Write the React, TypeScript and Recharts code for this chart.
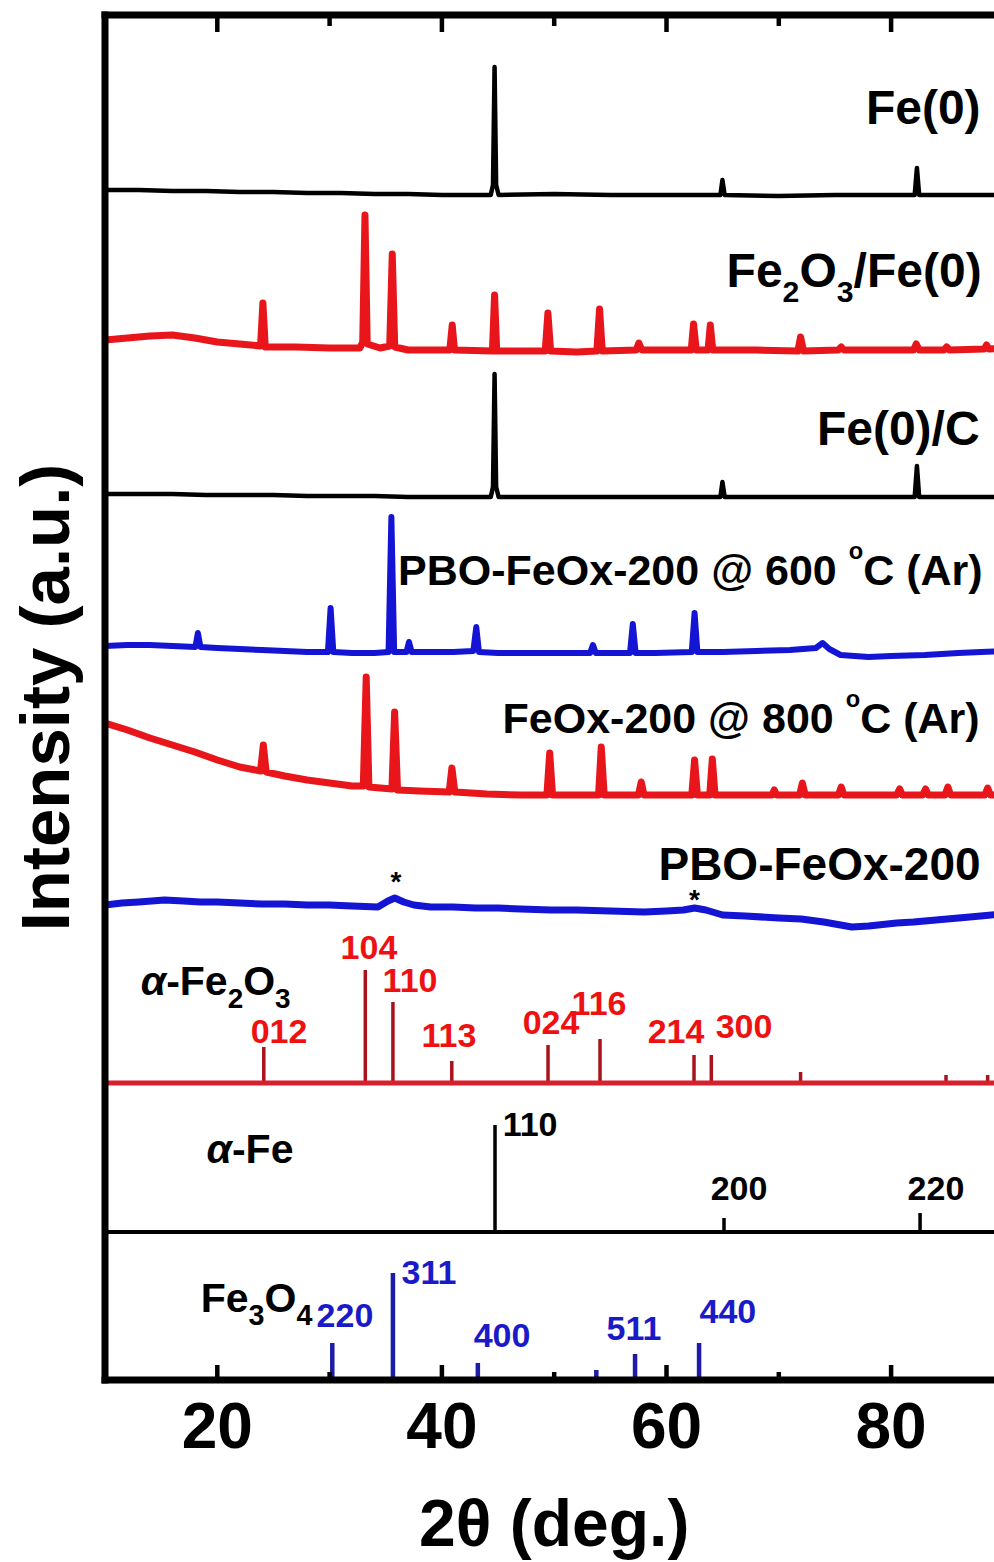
import React from 'react';
import { ComposedChart, Line, XAxis, YAxis, ReferenceDot } from 'recharts';

const FONT = '"Liberation Sans", Arial, Helvetica, sans-serif';

// ---------- axes ----------
const X_DOMAIN: [number, number] = [10, 90];
const X_TICKS = [20, 30, 40, 50, 60, 70, 80];
const X_TICK_LABELS = [20, 40, 60, 80];
const Y_DOMAIN: [number, number] = [0, 1365];

// ---------- measured patterns: [2θ, intensity above own offset] ----------
const FE0: [number, number][] = [
  [10, 5], [13, 5], [16, 4], [19, 4], [22, 3], [25, 3], [28, 2], [31, 2], [34, 1], [37, 1], [40, 0],
  [44.35, 0], [44.55, 10], [44.69, 128], [44.83, 10], [45.05, 0], [50, 1], [55, 0], [60, 0],
  [64.8, 0], [64.98, 15], [65.18, 0], [70, -1], [75, 0], [80, 0], [82.1, 0], [82.3, 27], [82.5, 0], [86, 0], [90, 0],
];
const FE2O3_FE0: [number, number][] = [
  [10, 10], [12, 12], [14, 14], [16, 15], [18, 12], [20, 8], [22, 6], [23.85, 4], [24.06, 47], [24.27, 3],
  [27, 3], [30, 2], [32.7, 2], [32.95, 8], [33.15, 135], [33.35, 6], [34.5, 2], [35.35, 4], [35.58, 96], [35.8, 3],
  [37, 0], [40.7, 0], [40.92, 25], [41.12, 0], [44.5, -1], [44.69, 55], [44.88, -1], [47, -1], [49.2, -1], [49.44, 37],
  [49.68, -1], [52, -2], [53.8, -1], [54.04, 41], [54.28, -1], [57.3, 0], [57.54, 7], [57.8, 0], [60, 0], [62.2, 0],
  [62.41, 26], [62.65, 0], [63.7, 0], [63.9, 25], [64.12, 0], [68, 0], [71.7, -1], [71.94, 13], [72.2, -1], [75.3, 0],
  [75.56, 3], [75.8, 0], [80, 0], [82.0, 0], [82.24, 6], [82.5, 0], [84.7, 0], [84.95, 3], [85.2, 0], [88.3, 1],
  [88.5, 5], [88.7, 1], [90, 2],
];
const FE0_C: [number, number][] = [
  [10, 3], [13, 3], [16, 3], [19, 2], [22, 2], [25, 2], [28, 1], [31, 1], [34, 1], [37, 0], [40, 0],
  [44.35, 0], [44.55, 10], [44.69, 123], [44.83, 10], [45.05, 0], [50, 0], [55, 0], [60, 0],
  [64.8, 0], [64.98, 15], [65.18, 0], [70, 0], [75, 0], [80, 0], [82.1, 0], [82.3, 31], [82.5, 0], [86, 0], [90, 0],
];
const PBO_600: [number, number][] = [
  [10, 6], [12, 7], [14, 7], [16, 6], [18.05, 5], [18.27, 19], [18.5, 5], [20, 4], [22, 3], [24, 2], [26, 1],
  [28, 0], [29.85, 0], [30.09, 44], [30.33, 0], [32, -1], [34, -1], [35.25, 0], [35.5, 135], [35.75, 0],
  [36.85, 0], [37.07, 10], [37.3, 0], [39, 0], [41, 0], [42.8, 1], [43.06, 25], [43.3, 0], [45, -1], [48, -1],
  [50, -1], [53.2, -1], [53.45, 7], [53.7, -1], [55, -1], [56.75, -1], [57.0, 28], [57.25, -1], [59, -1],
  [62.25, 0], [62.5, 39], [62.75, 0], [65, 0], [68, 1], [71, 2], [73.3, 4], [73.9, 9], [74.5, 3], [75.5, -3],
  [78, -5], [80, -4], [83, -3], [86, -1], [88, 0], [90, 1],
];
const FEOX_800: [number, number][] = [
  [10, 72], [12, 65], [14, 57], [16, 50], [18, 43], [20, 35], [22, 28], [23.85, 24], [24.1, 50], [24.35, 23],
  [26, 19], [28, 15], [30, 12], [32, 9], [33.0, 9], [33.26, 118], [33.5, 8], [35.55, 6], [35.79, 83], [36.05, 5],
  [38, 4], [40.65, 3], [40.89, 27], [41.15, 3], [44, 1], [47, 0], [49.35, 0], [49.6, 42], [49.85, 0], [52, 0],
  [53.95, 0], [54.19, 48], [54.45, 0], [57.5, 0], [57.75, 13], [58, 0], [60, 0], [62.25, 0], [62.5, 35], [62.75, 0],
  [63.85, 0], [64.08, 36], [64.32, 0], [67, 0], [69.4, 0], [69.6, 5], [69.8, 0], [71.85, 0], [72.1, 12], [72.35, 0],
  [75.3, 0], [75.56, 8], [75.8, 0], [78, 0], [80.5, 0], [80.76, 6], [81, 0], [82.8, 0], [83.07, 6], [83.3, 0],
  [84.8, 0], [85.06, 8], [85.3, 0], [88.35, 0], [88.6, 7], [88.85, 0], [90, 0],
];
const PBO_200: [number, number][] = [
  [10, 5], [11.5, 7], [13, 8], [15.3, 10], [17, 9], [18.5, 8], [20, 8], [22, 7], [24, 6], [26, 6], [28, 5],
  [30, 5], [32, 4], [34.3, 3], [35.2, 9], [35.8, 12], [36.6, 8], [37.5, 5], [39, 3], [41, 3], [43, 2], [45, 2],
  [47, 1], [49.7, 0], [52, 0], [55, -1], [58, -2], [60, -1], [61.5, 0], [62.5, 2], [63.5, 0], [65, -5], [67, -6],
  [70, -8], [72, -9], [74, -12], [75.5, -15], [76.5, -17], [78, -16], [80.5, -13], [82, -12], [84, -10], [87, -7], [90, -4],
];

// vertical offsets of the stacked patterns
const OFF_FE0 = 1185;
const OFF_FE2O3_FE0 = 1030;
const OFF_FE0_C = 883;
const OFF_PBO_600 = 728;
const OFF_FEOX_800 = 585;
const OFF_PBO_200 = 470;
const OFF_REF_FE2O3 = 297;
const OFF_REF_FE = 148;
const OFF_REF_FE3O4 = 0;

// ---------- reference sticks ----------
const FE2O3_REF_POS = [24.14, 33.18, 35.64, 40.88, 49.45, 54.08, 62.45, 63.99, 71.94, 84.89, 88.6];
const FE2O3_REF_INT = [36, 113, 81, 22, 38, 44, 28, 28, 11, 8, 8];
const FE_REF_POS = [44.73, 65.12, 82.58];
const FE_REF_INT = [107, 14, 19];
const FE3O4_REF_POS = [30.24, 35.64, 43.2, 53.75, 57.2, 62.9];
const FE3O4_REF_INT = [37, 107, 17, 10, 26, 37];

// ---------- annotation texts ----------
type Seg = { t: string; k?: 'sub' | 'sup' | 'it' };
type Ann = { x: number; y: number; segs: Seg[]; size: number; color: string; anchor: 'start' | 'middle' | 'end'; sub?: number };

const SAMPLE_LABELS: Ann[] = [
  { x: 87.97, y: 1256, segs: [{ t: 'Fe(0)' }], size: 48, color: '#000', anchor: 'end' },
  { x: 88.06, y: 1093, segs: [{ t: 'Fe' }, { t: '2', k: 'sub' }, { t: 'O' }, { t: '3', k: 'sub' }, { t: '/Fe(0)' }], size: 48, color: '#000', anchor: 'end' },
  { x: 87.88, y: 935, segs: [{ t: 'Fe(0)/C' }], size: 48, color: '#000', anchor: 'end' },
  { x: 88.15, y: 795, segs: [{ t: 'PBO-FeOx-200 @ 600 ' }, { t: 'o', k: 'sup' }, { t: 'C (Ar)' }], size: 43, color: '#000', anchor: 'end' },
  { x: 87.88, y: 647, segs: [{ t: 'FeOx-200 @ 800 ' }, { t: 'o', k: 'sup' }, { t: 'C (Ar)' }], size: 43, color: '#000', anchor: 'end' },
  { x: 87.97, y: 500, segs: [{ t: 'PBO-FeOx-200' }], size: 46, color: '#000', anchor: 'end' },
];
const STARS: Ann[] = [
  { x: 35.9, y: 489, segs: [{ t: '*' }], size: 28, color: '#000', anchor: 'middle' },
  { x: 62.5, y: 471, segs: [{ t: '*' }], size: 28, color: '#000', anchor: 'middle' },
];
const PHASE_LABELS: Ann[] = [
  { x: 13.18, y: 385, segs: [{ t: 'α', k: 'it' }, { t: '-Fe' }, { t: '2', k: 'sub' }, { t: 'O' }, { t: '3', k: 'sub' }], size: 41, color: '#000', anchor: 'start', sub: 0.68 },
  { x: 19.04, y: 217, segs: [{ t: 'α', k: 'it' }, { t: '-Fe' }], size: 41, color: '#000', anchor: 'start' },
  { x: 18.52, y: 68, segs: [{ t: 'Fe' }, { t: '3', k: 'sub' }, { t: 'O' }, { t: '4', k: 'sub' }], size: 41, color: '#000', anchor: 'start', sub: 0.7 },
];
const HKL_FE2O3: Ann[] = [
  { x: 22.97, y: 337, segs: [{ t: '012' }], size: 34, color: '#ee1111', anchor: 'start' },
  { x: 30.98, y: 421, segs: [{ t: '104' }], size: 34, color: '#ee1111', anchor: 'start' },
  { x: 34.72, y: 388, segs: [{ t: '110' }], size: 34, color: '#ee1111', anchor: 'start' },
  { x: 38.19, y: 333, segs: [{ t: '113' }], size: 34, color: '#ee1111', anchor: 'start' },
  { x: 47.19, y: 346, segs: [{ t: '024' }], size: 34, color: '#ee1111', anchor: 'start' },
  { x: 51.55, y: 365, segs: [{ t: '116' }], size: 34, color: '#ee1111', anchor: 'start' },
  { x: 58.32, y: 337, segs: [{ t: '214' }], size: 34, color: '#ee1111', anchor: 'start' },
  { x: 64.38, y: 342, segs: [{ t: '300' }], size: 34, color: '#ee1111', anchor: 'start' },
];
const HKL_FE: Ann[] = [
  { x: 45.41, y: 244, segs: [{ t: '110' }], size: 34, color: '#000', anchor: 'start' },
  { x: 63.93, y: 180, segs: [{ t: '200' }], size: 34, color: '#000', anchor: 'start' },
  { x: 81.47, y: 180, segs: [{ t: '220' }], size: 34, color: '#000', anchor: 'start' },
];
const HKL_FE3O4: Ann[] = [
  { x: 28.84, y: 53, segs: [{ t: '220' }], size: 34, color: '#1a1ac8', anchor: 'start' },
  { x: 36.41, y: 96, segs: [{ t: '311' }], size: 34, color: '#1a1ac8', anchor: 'start' },
  { x: 42.83, y: 33, segs: [{ t: '400' }], size: 34, color: '#1a1ac8', anchor: 'start' },
  { x: 54.66, y: 40, segs: [{ t: '511' }], size: 34, color: '#1a1ac8', anchor: 'start' },
  { x: 62.94, y: 57, segs: [{ t: '440' }], size: 34, color: '#1a1ac8', anchor: 'start' },
];
const ALL_ANN = [...SAMPLE_LABELS, ...STARS, ...PHASE_LABELS, ...HKL_FE2O3, ...HKL_FE, ...HKL_FE3O4];

// ---------- builders ----------
const toRows = (pts: [number, number][], off: number) => pts.map(([x, y]) => ({ x, y: y + off }));
const stickRows = (pos: number[], ints: number[], off: number) => {
  const rows: { x: number; y: number | null }[] = [];
  pos.forEach((p, i) => {
    rows.push({ x: p, y: off }, { x: p, y: off + ints[i] }, { x: p, y: null });
  });
  return rows;
};
const flatRows = (off: number) => [{ x: X_DOMAIN[0], y: off }, { x: X_DOMAIN[1], y: off }];

const renderSegs = (segs: Seg[], size: number, subScale = 0.63) => {
  let shift = 0;
  return segs.map((s, i) => {
    let target = 0;
    let fs = size;
    if (s.k === 'sub') { target = size * 0.31; fs = size * subScale; }
    if (s.k === 'sup') { target = -size * 0.6; fs = size * 0.55; }
    const dy = target - shift;
    shift = target;
    return (
      <tspan key={i} dy={dy} fontSize={fs} fontStyle={s.k === 'it' ? 'italic' : undefined}>{s.t}</tspan>
    );
  });
};

const BottomTick = (props: any) => {
  const { x, y, payload } = props;
  const v = payload?.value;
  const major = X_TICK_LABELS.includes(v);
  return (
    <g>
      <line x1={x} x2={x} y1={y} y2={y - (major ? 15 : 8)} stroke="#000" strokeWidth={4.5} />
      {major && (
        <text x={x} y={y + 68} textAnchor="middle" fontSize={64} fontWeight={700} fontFamily={FONT} fill="#000">{v}</text>
      )}
    </g>
  );
};
const TopTick = (props: any) => {
  const { x, y, payload } = props;
  const major = X_TICK_LABELS.includes(payload?.value);
  return <line x1={x} x2={x} y1={y} y2={y + (major ? 17 : 11)} stroke="#000" strokeWidth={4.5} />;
};

const XTitle = (props: any) => {
  const vb = props.viewBox || { x: 105, y: 1380, width: 898, height: 182 };
  return (
    <text x={vb.x + vb.width / 2} y={vb.y + 166} textAnchor="middle" fontSize={66} fontWeight={700} fontFamily={FONT} fill="#000">2θ (deg.)</text>
  );
};
const YTitle = (props: any) => {
  const vb = props.viewBox || { x: 0, y: 15, width: 105, height: 1365 };
  const cx = vb.x + vb.width - 36;
  const cy = vb.y + vb.height / 2;
  return (
    <text x={cx} y={cy} transform={`rotate(-90 ${cx} ${cy})`} textAnchor="middle" fontSize={69} fontWeight={700} fontFamily={FONT} fill="#000">Intensity (a.u.)</text>
  );
};

const AXIS_LINE = { stroke: '#000', strokeWidth: 7, strokeLinecap: 'square' as const };

const RED = '#e8161b';
const BLUE = '#1414d4';

export default function App() {
  const series = [
    { key: 'fe0', data: toRows(FE0, OFF_FE0), color: '#000', w: 4.5 },
    { key: 'fe2o3fe0', data: toRows(FE2O3_FE0, OFF_FE2O3_FE0), color: RED, w: 7 },
    { key: 'fe0c', data: toRows(FE0_C, OFF_FE0_C), color: '#000', w: 4.5 },
    { key: 'pbo600', data: toRows(PBO_600, OFF_PBO_600), color: BLUE, w: 6 },
    { key: 'feox800', data: toRows(FEOX_800, OFF_FEOX_800), color: RED, w: 7 },
    { key: 'pbo200', data: toRows(PBO_200, OFF_PBO_200), color: BLUE, w: 7 },
    { key: 'refFe2O3sticks', data: stickRows(FE2O3_REF_POS, FE2O3_REF_INT, OFF_REF_FE2O3), color: '#a8141e', w: 3.5 },
    { key: 'refFe2O3base', data: flatRows(OFF_REF_FE2O3), color: '#d6202c', w: 5 },
    { key: 'refFeSticks', data: stickRows(FE_REF_POS, FE_REF_INT, OFF_REF_FE), color: '#000', w: 3.5 },
    { key: 'refFeBase', data: flatRows(OFF_REF_FE), color: '#000', w: 4 },
    { key: 'refFe3O4sticks', data: stickRows(FE3O4_REF_POS, FE3O4_REF_INT, OFF_REF_FE3O4), color: '#1c1ca6', w: 4.5 },
  ];
  return (
    <div style={{ position: 'absolute', left: 0, top: 0, width: 994, height: 1562, overflow: 'hidden', background: '#fff' }}>
      <ComposedChart width={1020} height={1562} margin={{ top: 0, right: 0, bottom: 0, left: 0 }}>
        <XAxis
          xAxisId="b" dataKey="x" type="number" domain={X_DOMAIN} ticks={X_TICKS} interval={0} allowDataOverflow
          orientation="bottom" height={182} tickSize={0} tickMargin={0} tickLine={false}
          tick={<BottomTick />} axisLine={AXIS_LINE} label={{ content: XTitle }}
        />
        <XAxis
          xAxisId="t" dataKey="x" type="number" domain={X_DOMAIN} ticks={X_TICKS} interval={0} allowDataOverflow
          orientation="top" height={15} tickSize={0} tickMargin={0} tickLine={false}
          tick={<TopTick />} axisLine={AXIS_LINE}
        />
        <YAxis
          yAxisId="l" type="number" domain={Y_DOMAIN} allowDataOverflow width={105}
          tick={false} tickLine={false} axisLine={AXIS_LINE} label={{ content: YTitle }}
        />
        <YAxis
          yAxisId="r" orientation="right" type="number" domain={Y_DOMAIN} allowDataOverflow width={16.6}
          tick={false} tickLine={false} axisLine={AXIS_LINE}
        />
        {series.map((s) => (
          <Line
            key={s.key} data={s.data} dataKey="y" xAxisId="b" yAxisId="l" type="linear"
            stroke={s.color} strokeWidth={s.w} strokeLinejoin="round" dot={false} activeDot={false}
            isAnimationActive={false} connectNulls={false}
          />
        ))}
        {ALL_ANN.map((a, i) => (
          <ReferenceDot
            key={`ann-${i}`} x={a.x} y={a.y} xAxisId="b" yAxisId="l" r={0} ifOverflow="visible"
            shape={(p: any) => (
              <text x={p.cx} y={p.cy} textAnchor={a.anchor} fontSize={a.size} fontWeight={700} fontFamily={FONT} fill={a.color}>
                {renderSegs(a.segs, a.size, a.sub)}
              </text>
            )}
          />
        ))}
      </ComposedChart>
    </div>
  );
}
